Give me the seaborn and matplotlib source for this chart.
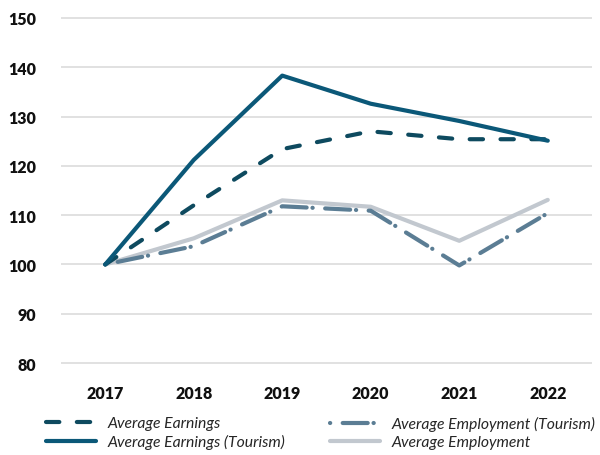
import matplotlib
matplotlib.use("Agg")
import matplotlib.pyplot as plt
import seaborn as sns
import pandas as pd

years = ["2017", "2018", "2019", "2020", "2021", "2022"]
avg_earnings = [100, 112.0, 123.4, 127.0, 125.4, 125.4]
avg_earnings_tourism = [100, 121.2, 138.3, 132.6, 129.1, 125.1]
avg_employment_tourism = [100, 103.7, 111.8, 110.9, 99.8, 110.4]
avg_employment = [100, 105.3, 113.0, 111.7, 104.8, 113.1]

series_names = [
    "Average Earnings",
    "Average Earnings (Tourism)",
    "Average Employment (Tourism)",
    "Average Employment",
]
series_values = [avg_earnings, avg_earnings_tourism, avg_employment_tourism, avg_employment]

colors = {
    "Average Earnings": "#0e4a5f",
    "Average Earnings (Tourism)": "#0b5878",
    "Average Employment (Tourism)": "#5b7d94",
    "Average Employment": "#c2c8cf",
}
dashes = {
    "Average Earnings": (3.2, 4.2),
    "Average Earnings (Tourism)": "",
    "Average Employment (Tourism)": (0.05, 3.0, 6.0, 1.4),
    "Average Employment": "",
}

rows = []
for name, vals in zip(series_names, series_values):
    for i, (y, v) in enumerate(zip(years, vals)):
        rows.append({"pos": i, "year": y, "value": v, "series": name})
df = pd.DataFrame(rows)

sns.set_theme(style="white")
plt.rcParams["font.family"] = ["Lato", "DejaVu Sans"]

fig = plt.figure(figsize=(6.0, 4.56), dpi=100)
ax = fig.add_axes([61 / 600, 1 - 369 / 456, (592 - 61) / 600, (369 - 14) / 456])

sns.lineplot(
    data=df, x="pos", y="value", hue="series", style="series",
    hue_order=series_names, style_order=series_names,
    palette=colors, dashes=dashes, linewidth=3.0, ax=ax,
    legend=False, solid_capstyle="round", dash_capstyle="round",
)
# keep the two employment lines underneath the earnings lines
for line, name in zip(ax.get_lines(), series_names):
    line.set_label(name)
    line.set_dash_capstyle("round")
    line.set_solid_capstyle("round")
    if name == "Average Employment":
        line.set_zorder(1.5)
    elif name == "Average Employment (Tourism)":
        line.set_zorder(1.8)
    else:
        line.set_zorder(2.5)

ax.set_xlim(-0.5, 5.5)
ax.set_ylim(79, 151)
ax.set_xticks(range(len(years)))
ax.set_xticklabels(years)
ax.set_yticks(range(80, 151, 10))
ax.yaxis.grid(True, color="#dcdcdc", linewidth=1.2)
ax.set_axisbelow(True)
ax.set_xlabel("")
ax.set_ylabel("")
for s in ax.spines.values():
    s.set_visible(False)
ax.tick_params(axis="x", length=0, pad=12, labelsize=11.5, labelcolor="#111111")
ax.tick_params(axis="y", length=0, pad=18, labelsize=11.5, labelcolor="#111111")
for lab in ax.get_xticklabels() + ax.get_yticklabels():
    lab.set_fontweight("heavy")

handles = ax.get_lines()[:4]
legend_prop = {"family": ["Lato", "DejaVu Sans"], "style": "italic", "size": 11.3}
legend_kw = dict(
    loc="upper left", frameon=False, prop=legend_prop,
    handlelength=3.2, handletextpad=0.7,
    labelspacing=0.28, borderaxespad=0, borderpad=0,
)
left_col = fig.legend(handles[:2], series_names[:2],
                      bbox_to_anchor=(46 / 600, 1 - 417 / 456), **legend_kw)
right_col = fig.legend(handles[2:], series_names[2:],
                       bbox_to_anchor=(330 / 600, 1 - 417 / 456), **legend_kw)

fig.savefig("out.png", dpi=100)
